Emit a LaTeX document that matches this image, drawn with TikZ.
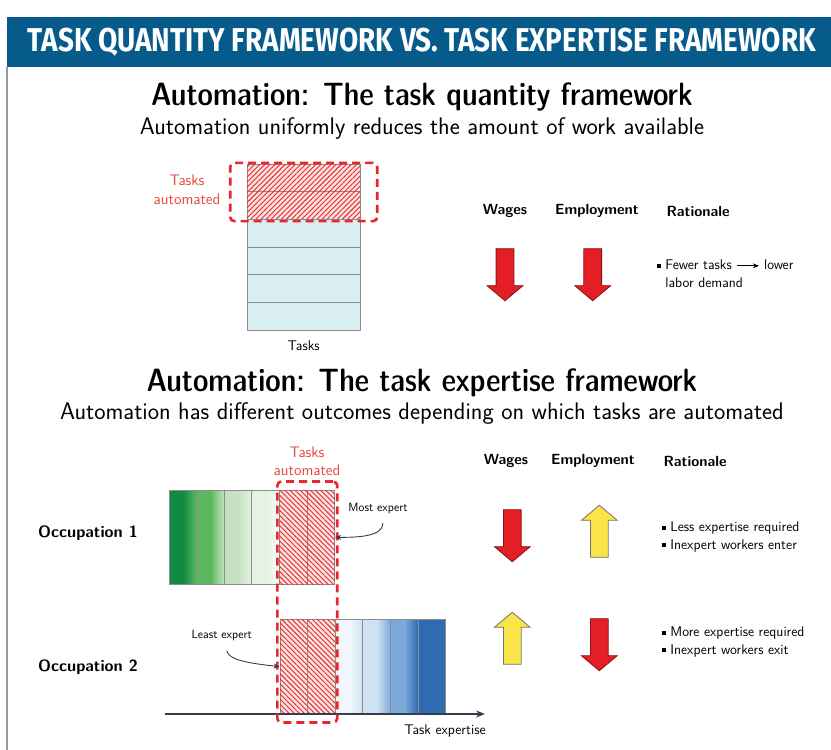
\documentclass[tikz,border=0pt]{standalone}
\usepackage{fontspec}
\usepackage{graphicx}
\usepackage{tikz}
\usetikzlibrary{arrows.meta,positioning,calc,fit,shapes.arrows,patterns.meta}
\newfontfamily\bannerfont{Fira Sans}
\definecolor{tqbanner}{HTML}{075B8B}
\definecolor{tqframe}{HTML}{9A9A9A}
\definecolor{tqred}{HTML}{E8262C}
\definecolor{tqlabel}{HTML}{E8453F}
\definecolor{tqhatch}{HTML}{FBE2DF}
\definecolor{tqcyan}{HTML}{D9EEF0}
\definecolor{tqgrid}{HTML}{8C8C8C}
\definecolor{tqdown}{HTML}{E31E24}
\definecolor{tqup}{HTML}{F9E547}
\definecolor{tqaxis}{HTML}{363D4A}
\definecolor{tqgA}{HTML}{138A42}
\definecolor{tqgB}{HTML}{5CB85F}
\definecolor{tqgC}{HTML}{C4E2C0}
\definecolor{tqgD}{HTML}{E6F3E3}
\definecolor{tqgE}{HTML}{F8FCF7}
\definecolor{tqbA}{HTML}{F0F6FC}
\definecolor{tqbB}{HTML}{CFE1F3}
\definecolor{tqbC}{HTML}{7BAADA}
\definecolor{tqbD}{HTML}{2E6BB3}
\newcommand{\bul}{\rule[1.8pt]{4.2pt}{4.2pt}\hspace{4pt}}
\newcommand{\nobul}{\hphantom{\bul}}
\newcommand{\tqthen}{\tikz[baseline=-0.6ex]\draw[-{Stealth[length=6pt,width=5pt]},line width=1.1pt] (0pt,0pt) -- (22pt,0pt);}

\begin{document}
\begin{tikzpicture}[x=1pt,y=-1pt,
    font=\sffamily\fontsize{14}{17.5}\selectfont,
    banner/.style={text=white,font=\bannerfont\bfseries\fontsize{33}{34}\selectfont},
    heading/.style={font=\sffamily\fontseries{sbc}\fontsize{32.3}{34}\selectfont},
    subhead/.style={font=\sffamily\fontsize{24}{26}\selectfont},
    colhead/.style={font=\sffamily\bfseries\fontsize{14.7}{16}\selectfont},
    rowhead/.style={font=\sffamily\bfseries\fontsize{16.3}{18}\selectfont},
    reason/.style={align=left,anchor=west,inner sep=0pt},
    redlbl/.style={text=tqlabel,align=center,font=\sffamily\fontsize{15.3}{18.5}\selectfont},
    note/.style={font=\sffamily\fontsize{12}{14}\selectfont},
    task/.style={draw=tqgrid,line width=1pt,minimum width=113pt,minimum height=27.67pt,inner sep=0pt},
    cell/.style={draw=tqgrid,line width=1pt,minimum width=27.6pt,minimum height=94.7pt,inner sep=0pt},
    hatch/.style={fill=tqhatch,postaction={pattern={Lines[angle=#1,distance=3.6pt,line width=0.9pt]},pattern color=tqred}},
    autobox/.style={draw=tqred,line width=2.6pt,dash pattern=on 8pt off 5pt,rounded corners=4pt},
    blockarrow/.style={single arrow,line width=0.8pt,minimum height=52pt,inner sep=8.5pt,
      single arrow head extend=9pt,single arrow tip angle=100},
    down/.style={blockarrow,shape border rotate=270,fill=tqdown,draw=tqdown!60!black},
    up/.style={blockarrow,shape border rotate=90,fill=tqup,draw=black!55},
    callout/.style={-{Stealth[length=6pt,width=5pt]},draw=tqaxis,line width=0.9pt},
    axis/.style={-{Stealth[length=9pt,width=7pt]},draw=tqaxis,line width=2pt}
  ]
  \useasboundingbox (0,0) rectangle (831,750);

  % banner and frame
  \fill[tqbanner] (7,17) rectangle (831,67);
  \draw[tqframe,line width=1.2pt] (7,67) -- (7,750);
  \node[banner] (title) at (422,42) {\scalebox{0.845}[1]{TASK QUANTITY FRAMEWORK VS.\ TASK EXPERTISE FRAMEWORK}};

  % task quantity framework
  \node[heading] (qhead) at (422,97) {Automation: The task quantity framework};
  \node[subhead] (qsub) at (422,129) {Automation uniformly reduces the amount of work available};

  \foreach \i in {1,2}
    \node[task,hatch=45] (q\i) at (303.7,{164.3+27.67*(\i-0.5)}) {};
  \foreach \i in {3,...,6}
    \node[task,fill=tqcyan] (q\i) at (303.7,{164.3+27.67*(\i-0.5)}) {};
  \node[autobox,fit=(q1)(q2),inner xsep=16.5pt,inner ysep=1pt] (qauto) {};
  \node[redlbl] (qautolbl) at (187,190) {Tasks\\automated};
  \node (qtasks) at (303.7,346) {Tasks};

  \node[colhead] (qwages) at (505,211) {Wages};
  \node[colhead] (qemp) at (597,211) {Employment};
  \node[colhead,anchor=west] (qwhy) at (663,211) {Rationale};
  \node[down] (qw) at (505,271) {};
  \node[down] (qe) at (592.7,271) {};
  \node[reason] (qr) at (657,273.5) {\bul Fewer tasks \tqthen{} lower\\\nobul labor demand};

  % task expertise framework
  \node[heading] (ehead) at (422,383) {Automation: The task expertise framework};
  \node[subhead] (esub) at (422,414) {Automation has different outcomes depending on which tasks are automated};

  \node[colhead] (ewages) at (506,461) {Wages};
  \node[colhead] (eemp) at (593,461) {Employment};
  \node[colhead,anchor=west] (ewhy) at (660,461) {Rationale};

  \node[rowhead] (occ1) at (88,533) {Occupation 1};
  \node[rowhead] (occ2) at (88,667) {Occupation 2};

  % occupation 1: expertise falls off to the right
  \foreach \i/\ca/\cb in {1/tqgA/tqgB,2/tqgB/tqgC,3/tqgC/tqgD,4/tqgD/tqgE} {
    \fill[\ca] ({169+27.6*(\i-1)},490) rectangle ++(27.6,94.7);
    \shade[left color=\ca,right color=\cb] ({169+27.6*(\i-1)+14},490) rectangle ++(13.6,94.7);
  }
  \foreach \i in {1,...,4}
    \node[cell] (o1c\i) at ({169+27.6*(\i-0.5)},537.35) {};
  \foreach \i in {5,6}
    \node[cell,hatch=-45] (o1c\i) at ({169+27.6*(\i-0.5)},537.35) {};

  % occupation 2: expertise grows to the right
  \foreach \i/\ca/\cb in {3/tqbA/tqbB,4/tqbB/tqbC,5/tqbC/tqbD,6/tqbD/tqbD} {
    \fill[\ca] ({280+27.6*(\i-1)},619.3) rectangle ++(27.6,94.7);
    \shade[left color=\ca,right color=\cb] ({280+27.6*(\i-1)+14},619.3) rectangle ++(13.6,94.7);
  }
  \foreach \i in {1,2}
    \node[cell,hatch=-45] (o2c\i) at ({280+27.6*(\i-0.5)},666.65) {};
  \foreach \i in {3,...,6}
    \node[cell] (o2c\i) at ({280+27.6*(\i-0.5)},666.65) {};

  \coordinate (axs) at (165,714);
  \coordinate (axe) at (485,714);
  \draw[axis] (axs) -- (axe);
  \node (axlbl) at (445,731) {Task expertise};

  \node[autobox,fit=(o1c5)(o2c2),inner xsep=1.5pt,inner ysep=8pt] (eauto) {};
  \node[redlbl] (eautolbl) at (307,461.5) {Tasks\\automated};

  \node[note] (most) at (378,508) {Most expert};
  \node[note] (least) at (221.7,635) {Least expert};
  \draw[callout] ([xshift=5pt,yshift=-6pt]most.south) .. controls +(0,14) and +(22,0) .. (o1c6.east);
  \draw[callout] ([xshift=5pt,yshift=-7pt]least.south) .. controls +(2,10) and +(-26,-3) .. (o2c1.west);

  \node[down] (w1) at (512.3,532) {};
  \node[up] (e1) at (599.3,535) {};
  \node[up] (w2) at (512.3,642) {};
  \node[down] (e2) at (599.3,641) {};
  \node[reason] (r1) at (662,537) {\bul Less expertise required\\\bul Inexpert workers enter};
  \node[reason] (r2) at (662,642) {\bul More expertise required\\\bul Inexpert workers exit};
\end{tikzpicture}
\end{document}
